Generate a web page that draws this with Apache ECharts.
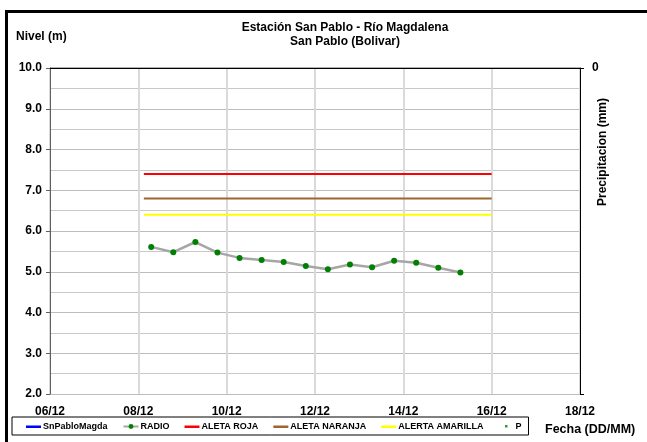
<!DOCTYPE html>
<html>
<head>
<meta charset="utf-8">
<script src="https://cdn.jsdelivr.net/npm/echarts@6/dist/echarts.min.js"></script>
<style>
    html, body { margin: 0; padding: 0; background: #fff; }
    #myChart { width: 647px; height: 442px; }
</style>
</head>
<body>
<div id="myChart"></div>
<script>
// nivel del río, lecturas cada 12 h
var radioFechas = ['08/12 07:00', '08/12 19:00', '09/12 07:00', '09/12 19:00', '10/12 07:00',
    '10/12 19:00', '11/12 07:00', '11/12 19:00', '12/12 07:00', '12/12 19:00',
    '13/12 07:00', '13/12 19:00', '14/12 07:00', '14/12 19:00', '15/12 07:00'];
var radioNivel = [5.61, 5.48, 5.73, 5.47, 5.34, 5.29, 5.24, 5.14, 5.06, 5.18, 5.11, 5.27, 5.22, 5.10, 4.98];

// umbrales de alerta
var alertaFechas = ['08/12 03:00', '16/12 00:00'];
var alertaRoja = 7.4;
var alertaNaranja = 6.8;
var alertaAmarilla = 6.4;

var xTicks = ['06/12', '08/12', '10/12', '12/12', '14/12', '16/12', '18/12'];
var yTicks = [2, 3, 4, 5, 6, 7, 8, 9, 10];

// dias desde 06/12
function dias(f) {
    var d = parseInt(f.substr(0, 2), 10);
    var h = parseInt(f.substr(6, 2), 10);
    return d - 6 + h / 24;
}

var myChart = echarts.init(document.getElementById('myChart'));
var font = 'Liberation Sans, Arial, sans-serif';

var radioData = [];
for (var i = 0; i < radioFechas.length; i++) {
    radioData.push([dias(radioFechas[i]), radioNivel[i]]);
}
function umbral(v) {
    return alertaFechas.map(function (f) { return [dias(f), v]; });
}

// iconos de leyenda: linea fina y punto pequeño
var iconLinea = 'path://M0,0L0.01,0M0,6L0.01,6M0,2H15V4.5H0Z';
var iconPunto = 'path://M0,0L0.01,0M15,6L15.01,6M6.5,1.5H9V4H6.5Z';

var option = {
    animation: false,
    title: {
        text: 'Estación San Pablo - Río Magdalena\nSan Pablo (Bolivar)',
        left: 340,
        top: 16,
        textAlign: 'center',
        textStyle: { fontFamily: font, fontSize: 12, fontWeight: 'bold', color: '#000', lineHeight: 14 }
    },
    legend: {
        left: 12,
        top: 417,
        width: 620,
        padding: [5, 7, 4, 14],
        borderColor: '#000',
        borderWidth: 1,
        itemWidth: 15,
        itemHeight: 6,
        itemGap: 15,
        symbolKeepAspect: false,
        textStyle: { fontFamily: font, fontSize: 9, fontWeight: 'bold', color: '#000', padding: [0, 0, 0, -3] },
        data: [
            { name: 'SnPabloMagda', icon: iconLinea },
            { name: 'RADIO' },
            { name: 'ALETA ROJA', icon: iconLinea },
            { name: 'ALETA NARANJA', icon: iconLinea },
            { name: 'ALERTA AMARILLA', icon: iconLinea },
            { name: 'P', icon: iconPunto }
        ]
    },
    grid: { left: 50, right: 67, top: 68, bottom: 48 },
    xAxis: {
        type: 'value',
        min: 0,
        max: 12,
        interval: 2,
        axisLine: { lineStyle: { color: '#000', width: 1 } },
        axisTick: { show: false },
        axisLabel: {
            margin: 12,
            fontFamily: font, fontSize: 12, fontWeight: 'bold', color: '#000',
            formatter: function (v) { return xTicks[v / 2]; }
        },
        splitLine: { show: true, lineStyle: { color: '#dadada', width: 2 } }
    },
    yAxis: [{
        type: 'value',
        min: yTicks[0],
        max: yTicks[yTicks.length - 1],
        interval: 1,
        axisLine: { show: true, lineStyle: { color: '#606060', width: 1 } },
        axisTick: { show: true, length: 4, lineStyle: { color: '#606060' } },
        axisLabel: {
            margin: 8,
            fontFamily: font, fontSize: 12, fontWeight: 'bold', color: '#000',
            formatter: function (v) { return v.toFixed(1); }
        },
        splitLine: { show: true, lineStyle: { color: '#bdbdbd', width: 1 } },
        minorTick: { show: false, splitNumber: 2 },
        minorSplitLine: { show: true, lineStyle: { color: '#c8c8c8', width: 1 } }
    }, {
        type: 'value',
        position: 'right',
        inverse: true,
        min: 0,
        max: 10,
        interval: 10,
        axisLine: { show: true, lineStyle: { color: '#000', width: 1 } },
        axisTick: { show: true, length: 4, lineStyle: { color: '#000' } },
        axisLabel: {
            margin: 12,
            fontFamily: font, fontSize: 12, fontWeight: 'bold', color: '#000',
            formatter: function (v) { return v === 0 ? '0' : ''; }
        },
        splitLine: { show: false }
    }],
    graphic: [
        { type: 'line', shape: { x1: 5, y1: 11.5, x2: 647, y2: 11.5 }, style: { stroke: '#000', lineWidth: 3 } },
        { type: 'line', shape: { x1: 6.5, y1: 10, x2: 6.5, y2: 442 }, style: { stroke: '#000', lineWidth: 3 } },
        { type: 'line', shape: { x1: 50, y1: 68, x2: 580, y2: 68 }, style: { stroke: '#9a9a9a', lineWidth: 1.5 } },
        { type: 'text', left: 16, top: 31, style: { text: 'Nivel (m)', font: 'bold 12px ' + font, fill: '#000' } },
        { type: 'text', left: 545, top: 423, style: { text: 'Fecha (DD/MM)', font: 'bold 12.5px ' + font, fill: '#000' } },
        { type: 'text', x: 603, y: 152, rotation: Math.PI / 2,
          style: { text: 'Precipitacion (mm)', font: 'bold 12px ' + font, fill: '#000', align: 'center', verticalAlign: 'middle' } }
    ],
    series: [
        {
            name: 'SnPabloMagda', type: 'line', data: [], showSymbol: false,
            itemStyle: { color: '#0000ff' }, lineStyle: { color: '#0000ff', width: 2 }
        },
        {
            name: 'RADIO', type: 'line', data: radioData,
            symbol: 'circle', symbolSize: 6,
            itemStyle: { color: '#008000' },
            lineStyle: { color: '#a6a6a6', width: 2.5 },
            z: 5
        },
        {
            name: 'ALETA ROJA', type: 'line', data: umbral(alertaRoja), symbol: 'none',
            itemStyle: { color: '#ff0000' }, lineStyle: { color: '#ff0000', width: 2 }
        },
        {
            name: 'ALETA NARANJA', type: 'line', data: umbral(alertaNaranja), symbol: 'none',
            itemStyle: { color: '#a0652d' }, lineStyle: { color: '#a0652d', width: 2 }
        },
        {
            name: 'ALERTA AMARILLA', type: 'line', data: umbral(alertaAmarilla), symbol: 'none',
            itemStyle: { color: '#ffff00' }, lineStyle: { color: '#ffff00', width: 2 }
        },
        {
            name: 'P', type: 'scatter', data: [], symbol: 'rect', symbolSize: 3,
            itemStyle: { color: '#008000' }
        }
    ]
};
myChart.setOption(option);
</script>
</body>
</html>
